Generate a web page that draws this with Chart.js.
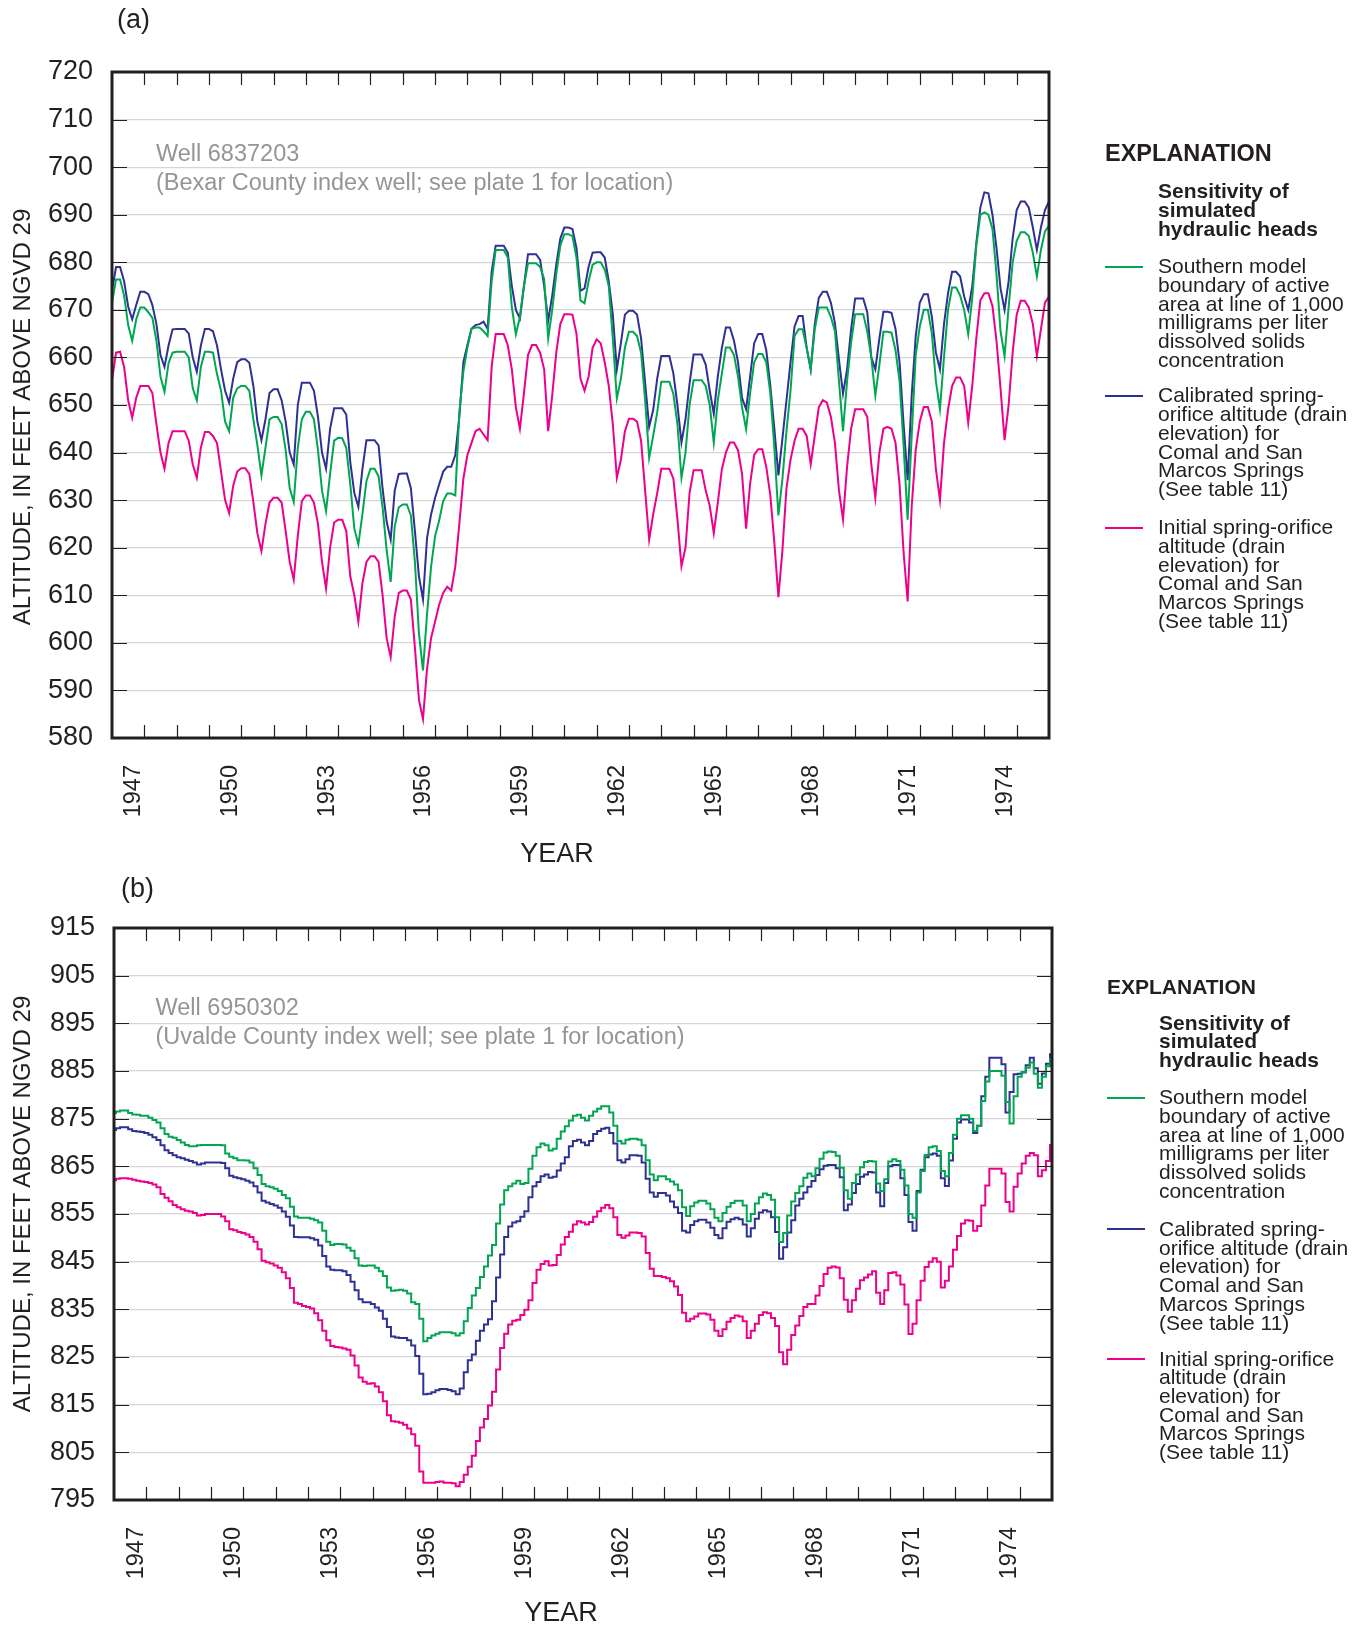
<!DOCTYPE html>
<html lang="en">
<head>
<meta charset="utf-8">
<title>Sensitivity of simulated hydraulic heads</title>
<script src="https://cdn.jsdelivr.net/npm/chart.js@4.4.1/dist/chart.umd.min.js"></script>
<style>
  html, body { margin: 0; padding: 0; background: #ffffff; }
  #page { position: relative; width: 1362px; height: 1625px; overflow: hidden;
          font-family: "Liberation Sans", Arial, Helvetica, sans-serif; color: #231f20; }
  #page canvas { position: absolute; left: 0; }
  .txt { position: absolute; white-space: pre; }
  .narrow { font-family: "Liberation Sans Narrow", "Liberation Sans", sans-serif; font-size: 27px; line-height: 28px; }
  .well { color: #939598; font-size: 23.5px; line-height: 29px; }
  .expl { font-weight: bold; line-height: 24px; }
  .key { font-size: 21px; line-height: 18.7px; }
  .heading { font-weight: bold; }
  .axis-name { font-size: 24px; line-height: 28px; width: 600px; text-align: center; transform: rotate(-90deg); }
  .swatch { position: absolute; width: 38px; height: 2px; }
</style>
</head>
<body>
<div id="page">
  <canvas id="chartA" width="1362" height="830" style="top:0"></canvas>
  <canvas id="chartB" width="1362" height="795" style="top:830px"></canvas>
</div>
<script>
// Time axis: eight readings a year from 1947 to 1975, plus the end point at 1976
const startYear = 1947;
const stepsPerYear = 8;
const yearLabels = ['1947', '1950', '1953', '1956', '1959', '1962', '1965', '1968', '1971', '1974'];
const altitudeTicksA = [580, 590, 600, 610, 620, 630, 640, 650, 660, 670, 680, 690, 700, 710, 720];
const altitudeTicksB = [795, 805, 815, 825, 835, 845, 855, 865, 875, 885, 895, 905, 915];

// (a) Well 6837203, altitude in feet
const southernA = [
  671.5, 676.4, 676.4, 673, 666.8, 663.5, 668, 670.5,
  670.5, 669.5, 668.3, 663.5, 656, 652.8, 658.8, 661,
  661.2, 661.2, 661.2, 660, 653.5, 651, 658, 661.2,
  661.2, 661, 656.5, 653, 646.5, 644.5, 651.5, 653.5,
  654, 654, 653, 647, 641.5, 635.2, 641, 647,
  647.5, 647.5, 646, 640.5, 632.5, 629.6, 641, 647,
  648.6, 648.6, 647, 640.5, 632, 627.7, 635.5, 642.5,
  643.1, 643, 641, 633.3, 624, 620.7, 627, 634,
  636.6, 636.6, 635, 628.5, 619.5, 612.8, 624.5, 628.5,
  629.1, 629.1, 626.8, 617, 602, 594.2, 606, 616,
  622.5, 625.7, 629.8, 631.4, 631.4, 631, 648.5, 657,
  662.1, 666, 666.3, 666.3, 665.5, 664.5, 676, 682.6,
  682.6, 682.6, 681, 670.5, 664.9, 668.5, 675, 679.8,
  679.8, 679.8, 679, 676.5, 664, 670, 677.5, 683.5,
  685.9, 685.9, 685.5, 681, 672, 671.4, 676, 679.5,
  680, 680, 678.5, 675, 664, 651.4, 655.5, 662.1,
  665.4, 665.4, 664.5, 661, 651, 638.9, 643.5, 648.5,
  654.9, 654.9, 654.9, 652.3, 646, 634.7, 640, 650,
  655.2, 655.2, 655.2, 654, 650, 642.1, 651, 656.6,
  662.1, 662.1, 660.5, 656, 649.5, 644.9, 652.5, 659,
  660.7, 660.7, 659, 652.5, 641, 626.8, 634.5, 644.5,
  653, 664.5, 665.9, 665.9, 662, 657.5, 665.9, 670.5,
  670.5, 670.5, 668.5, 665.5, 655, 644.5, 655, 663.1,
  669.1, 669.1, 669.1, 665.5, 660, 652, 658.4, 665.4,
  665.4, 665.2, 661.5, 655, 641.5, 625.9, 643.5, 660.5,
  666.5, 670, 670, 665, 655, 649.1, 660, 670,
  674.7, 674.7, 673, 670, 664.9, 672.5, 683.5, 690,
  690.5, 690, 687, 677.5, 665.5, 660.3, 670.5, 680,
  684.5, 686.3, 686.3, 685.5, 682, 677, 682.6, 686.5,
  687.7
];
const calibratedA = [
  674, 679, 679, 676, 670.7, 668, 671, 673.8,
  673.8, 673.3, 671, 667, 660.5, 658, 662.5, 665.9,
  666, 666, 666, 665, 660, 657, 662.5, 666,
  666, 665.5, 662.5, 657.5, 653, 650.5, 655.5, 659,
  659.6, 659.6, 658.9, 654, 646.5, 642.6, 647, 652.5,
  653.3, 653.3, 651, 646.5, 640, 637.5, 650, 654.7,
  654.7, 654.7, 653, 647.5, 640, 636.6, 645, 649.3,
  649.3, 649.3, 648, 638, 631.5, 628.6, 636.5, 642.6,
  642.6, 642.6, 641.5, 632.4, 625.5, 621.7, 632, 635.5,
  635.6, 635.6, 632.5, 623.5, 614, 609.1, 622, 627,
  630.5, 633.3, 636, 637, 637, 639.5, 647.5, 659,
  662.6, 666, 666.8, 667, 667.5, 666, 678, 683.5,
  683.5, 683.5, 682, 675, 670, 668.2, 675, 681.7,
  681.7, 681.7, 680.5, 675, 667.7, 673, 679.5, 685,
  687.3, 687.3, 687, 683, 674, 674.5, 679, 682,
  682.1, 682.1, 681, 676, 669, 657.5, 663, 669,
  669.8, 669.8, 669, 664, 654.7, 645.4, 649, 655.6,
  660.3, 660.3, 660.3, 656.6, 650, 642.1, 647, 654.5,
  660.6, 660.6, 660.6, 658.5, 653, 648.2, 656, 662,
  666.3, 666.3, 663.5, 659, 651.5, 649.1, 656, 663,
  664.9, 664.9, 661.5, 654, 645, 635.2, 643, 651,
  659, 666.5, 668.7, 668.7, 662, 657.5, 667, 672.5,
  673.8, 673.8, 671.5, 667.2, 659.5, 652.4, 657.5, 665.9,
  672.4, 672.4, 672.4, 669.5, 660, 657.5, 664, 669.6,
  669.6, 669.4, 666, 659, 646, 634.2, 652, 664.5,
  671.5, 673.3, 673.3, 668.5, 661, 657.5, 667, 673.5,
  678, 678, 677, 672.8, 670, 675, 684, 691.5,
  694.7, 694.5, 690, 683, 674.5, 670, 676, 685,
  691, 692.8, 692.8, 691.5, 687.3, 682.6, 687.3, 691,
  692.8
];
const initialA = [
  655.2, 661, 661.2, 658, 651, 647.3, 651.5, 654,
  654, 654, 652.5, 646, 640, 636.6, 642, 644.5,
  644.5, 644.5, 644.5, 642.5, 637.5, 634.7, 641, 644.3,
  644.3, 643.5, 642, 636, 630, 627.3, 633, 636,
  636.7, 636.7, 635.5, 629.6, 623, 619.3, 625, 629.5,
  630.5, 630.5, 629.5, 623.5, 617, 613.3, 622.5, 629.8,
  631, 631, 629.5, 625, 617, 611.4, 620, 625.3,
  625.9, 625.9, 623.5, 614, 610, 604.5, 612.5, 617,
  618.2, 618.2, 617, 610, 601, 597, 605.5, 610.5,
  611, 611, 609.1, 599, 588, 584, 594.5, 601,
  604.5, 608, 610.5, 611.8, 611, 616, 625, 634.5,
  639.5, 642, 644.5, 645, 643.8, 642.6, 658, 664.9,
  664.9, 664.9, 662.5, 657.5, 649.5, 645, 652.5, 660.5,
  662.6, 662.6, 661, 657.5, 644.5, 652, 661, 667,
  669.1, 669.1, 669, 665, 655.5, 653, 656, 662,
  663.8, 663, 659, 654, 646, 634.7, 638.5, 644.5,
  647.1, 647.1, 646.5, 642.5, 632, 621.7, 627, 631.5,
  636.6, 636.6, 636.6, 634.5, 626, 616.1, 620, 631.5,
  636.3, 636.3, 636.3, 632, 628.8, 623.1, 629.5, 636.5,
  640, 642.1, 642.1, 640.5, 635.5, 624, 633.5, 639.5,
  640.7, 640.7, 637, 631, 621, 609.6, 619.5, 632.5,
  638.5, 642.5, 645, 645, 643.5, 637.5, 643.5, 649.5,
  651, 650.5, 647.5, 642, 632, 625.9, 637, 645,
  649.1, 649.1, 649.1, 647.5, 637.5, 630.5, 640, 645,
  645.4, 645, 642, 633.3, 619, 608.7, 628.6, 640.5,
  646.5, 649.6, 649.6, 646.5, 636.5, 630, 642, 649,
  654, 655.8, 655.8, 654, 646.3, 654, 664, 672,
  673.5, 673.5, 670.8, 663.5, 653.5, 642.6, 650, 661,
  669, 671.9, 671.9, 670.5, 667, 660.3, 665.9, 671.5,
  672.8
];

// (b) Well 6950302, altitude in feet
const southernB = [
  876.2, 876.5, 876.7, 876.7, 876.2, 875.9, 875.8, 875.6,
  875.6, 875.2, 874.7, 874.2, 873, 871.8, 871.2, 871,
  870.5, 870, 869.5, 869.2, 869.2, 869.4, 869.5, 869.5,
  869.5, 869.5, 869.5, 869.4, 867.7, 867, 866.7, 866.3,
  866.3, 866.2, 865.8, 864.6, 863.2, 861.3, 860.8, 860.6,
  860.3, 859.8, 859, 858.3, 856.5, 854.5, 854.2, 854.2,
  854.2, 854, 853.7, 853.2, 851.5, 849.2, 848.5, 848.7,
  848.7, 848.6, 847.9, 847.3, 845.7, 844.2, 844.1, 844.2,
  844.2, 843.7, 843, 842, 839.6, 838.9, 839, 839.1,
  838.9, 838.3, 836.5, 836.1, 833, 828.3, 829, 829.5,
  829.9, 830.2, 830.2, 830.2, 830, 829.5, 830, 832.5,
  835.3, 837.9, 839.5, 841.8, 844, 846.3, 848.5, 853,
  857, 860, 860.8, 861.4, 862, 861.3, 861.5, 864.5,
  867.2, 869, 869.8, 869.4, 868.3, 868.7, 870.8, 872.3,
  873.4, 874.6, 875.6, 875.8, 875.2, 874.6, 875.6, 876.5,
  877.1, 877.6, 877.6, 876.3, 873.5, 870.3, 869.8, 870.6,
  870.8, 870.8, 870.6, 869.4, 866.3, 863.3, 862.1, 862.9,
  862.9, 862.3, 861.8, 861.2, 860, 856.4, 854.6, 856.6,
  857.4, 857.8, 857.8, 857.2, 856, 854.2, 853.5, 855.2,
  856.5, 857.3, 857.8, 857.8, 856.8, 853.5, 855, 857.2,
  858.5, 859.3, 859, 858, 854.3, 849.1, 851, 854.7,
  857.6, 859.4, 860.8, 862.6, 863.5, 862.9, 864.6, 866.6,
  867.9, 868.1, 868, 867.2, 864.7, 860, 858.2, 861.5,
  863.3, 864.8, 865.9, 866.1, 866, 861.4, 859.8, 862.3,
  866, 866.5, 866.1, 864.3, 861, 855, 854.2, 859.5,
  864, 867.4, 869, 869.2, 868.2, 864, 862.9, 867.8,
  871.6, 875, 875.7, 875.7, 875, 872.4, 873.5, 878.7,
  882.8, 885, 885, 885, 884, 878.5, 874, 879.7,
  883.8, 884.8, 885.7, 886.8, 884.4, 881.5, 883.8, 886,
  887.5
];
const calibratedB = [
  872.6, 873, 873.2, 873.2, 872.8, 872.4, 872.3, 872.2,
  872, 871.6, 871.1, 870.5, 869.4, 868.4, 867.8, 867.3,
  866.9, 866.7, 866.4, 866.1, 865.8, 865.4, 865.6, 865.8,
  865.8, 865.8, 865.8, 865.7, 864.6, 863, 862.7, 862.5,
  862.3, 862, 861.6, 860.8, 859.5, 857.8, 857.4, 857.1,
  856.8, 856.3, 855.5, 854.4, 852.6, 850.2, 850.1, 850.1,
  850.1, 849.9, 849.6, 848.4, 846.2, 844, 843.3, 843.2,
  843.2, 843, 842.2, 840.8, 839, 837.1, 836.5, 836.5,
  836.1, 835.4, 834.7, 833, 831.3, 829.3, 829.1, 829,
  829, 828.5, 827.4, 825.2, 821.5, 817.2, 817.3, 817.6,
  818, 818.3, 818.3, 818.1, 817.8, 817.2, 818.4, 821.8,
  824.3, 825.5, 828.4, 830.5, 831.8, 832.9, 836.7, 841.7,
  846.5, 850.2, 852.4, 853.2, 853.5, 854.4, 855.6, 858.5,
  860.8, 861.7, 862.9, 863.3, 862.6, 862.8, 864.1, 865.6,
  866.9, 869.2, 870.3, 870.6, 870, 869.4, 870.3, 871.8,
  872.4, 872.9, 873.1, 872, 869.8, 866.3, 865.8, 866.5,
  867.3, 867.3, 867.2, 865.8, 862.4, 859.5, 858.6, 859.4,
  859.4, 858.9, 857.6, 856.4, 855.2, 851.5, 851.1, 852.7,
  853.5, 853.8, 853.8, 853.2, 852.1, 850.6, 849.9, 852,
  853.4, 853.9, 854.2, 853.9, 852.8, 850.3, 852, 854,
  855.3, 855.8, 855.5, 854.3, 851.2, 845.6, 848, 851.1,
  853.7, 856.8, 858.2, 859.5, 860.7, 861.9, 863.2, 864.4,
  865.1, 865.3, 865.3, 864.6, 862.7, 855.8, 857, 859.4,
  861.3, 862.8, 863.3, 863.8, 863.7, 859.5, 856.6, 861.5,
  865, 865.3, 865.3, 862.5, 859, 853.3, 851.5, 859.8,
  864.3, 866.9, 867.5, 867.7, 867.2, 862.5, 860.9, 866.2,
  870.8, 874.2, 874.8, 874.8, 874.2, 872, 873.5, 879.7,
  883.8, 887.8, 887.8, 887.8, 886.4, 876.3, 880.6, 884.3,
  884.4, 884.7, 886.2, 887.8, 885.6, 882.3, 884.5, 886.5,
  888.5
];
const initialB = [
  862.1, 862.4, 862.5, 862.5, 862.4, 862.2, 862, 861.8,
  861.7, 861.5, 861.2, 860.6, 859.2, 858.4, 857.7, 856.9,
  856.4, 856, 855.7, 855.5, 855.2, 854.7, 854.8, 855,
  855, 855, 855, 854.5, 853.5, 851.8, 851.6, 851.2,
  851, 850.7, 850.2, 849.2, 847.6, 845.2, 844.9, 844.6,
  844.2, 843.7, 842.8, 841.5, 839.5, 836.4, 836.1, 835.7,
  835.5, 835.2, 834.2, 832.7, 830.5, 828.5, 827.3, 827.1,
  827, 826.8, 826.5, 825.3, 823.2, 820.7, 819.8, 819.4,
  819.5, 818.8, 817.6, 815.7, 812.8, 811.5, 811.4, 811.2,
  810.8, 810, 808.8, 806.4, 801, 798.6, 798.6, 798.6,
  798.8, 798.9, 798.6, 798.6, 798.5, 797.9, 798.8, 800.3,
  802, 804.3, 807.4, 810.2, 812, 814.8, 817.7, 822.4,
  826.9, 829.9, 831.8, 832.6, 832.8, 833.8, 834.9, 836.9,
  840.5, 843.3, 844.5, 845.1, 844.2, 844.3, 846.4, 848.6,
  850.2, 851.3, 852.8, 853.5, 853.2, 852.8, 853.3, 854.4,
  855.6, 856.3, 856.9, 856.2, 854.3, 850.6, 850, 850.5,
  851.1, 851.1, 851, 850.3, 846.8, 843.5, 842, 842,
  841.8, 841.5, 840.9, 839.8, 838, 834.3, 832.5, 833,
  833.5, 834.1, 834.1, 833.9, 832.8, 830.5, 829.4, 830.8,
  832.4, 833.2, 833.7, 833.5, 832.5, 829, 830.5, 832,
  833.8, 834.4, 834.2, 833.2, 831.5, 826, 823.5, 826.5,
  829.6, 831.6, 833.6, 835.5, 836.1, 836.1, 837.9, 839.9,
  842.4, 843.7, 844, 843.8, 841.5, 837, 834.5, 836.9,
  839.3, 841.1, 841.7, 842.3, 843, 838.5, 836.1, 839,
  842.6, 842.8, 842.1, 840.2, 836, 829.8, 832, 836.9,
  841, 843.9, 845, 845.7, 845, 839.6, 841, 844,
  847.5, 850.4, 853, 853.7, 853.6, 851.5, 852.5, 856.8,
  861, 864.5, 864.5, 864.5, 863.5, 857.5, 855.5, 860.7,
  863.5, 865.6, 867.2, 867.8, 867.3, 862.9, 864.2, 866.1,
  869.5
];

const ink = '#231f20';
const lineColors = { southern: '#00a651', calibrated: '#2e3192', initial: '#ec008c' };

const legendEntries = [
  { color: lineColors.southern, text: 'Southern model\nboundary of active\narea at line of 1,000\nmilligrams per liter\ndissolved solids\nconcentration' },
  { color: lineColors.calibrated, text: 'Calibrated spring-\norifice altitude (drain\nelevation) for\nComal and San\nMarcos Springs\n(See table 11)' },
  { color: lineColors.initial, text: 'Initial spring-orifice\naltitude (drain\nelevation) for\nComal and San\nMarcos Springs\n(See table 11)' }
];

function toPoints(values) {
  return values.map((v, i) => ({ x: startYear + i / stepsPerYear, y: v }));
}

// frame, inward ticks on all four sides and the year labels under the plot
const framePlugin = {
  id: 'frame',
  afterDatasetsDraw(chart, args, opts) {
    const { ctx, chartArea: a, scales: { x, y } } = chart;
    ctx.save();
    ctx.strokeStyle = ink;
    ctx.lineWidth = 1.2;
    ctx.beginPath();
    for (let yr = x.min + 1; yr < x.max; yr++) {
      const px = Math.round(x.getPixelForValue(yr)) + 0.5;
      ctx.moveTo(px, a.top); ctx.lineTo(px, a.top + 13);
      ctx.moveTo(px, a.bottom); ctx.lineTo(px, a.bottom - 13);
    }
    y.ticks.forEach(t => {
      const py = Math.round(y.getPixelForValue(t.value)) + 0.5;
      ctx.moveTo(a.left, py); ctx.lineTo(a.left + 15, py);
      ctx.moveTo(a.right, py); ctx.lineTo(a.right - 15, py);
    });
    ctx.stroke();
    ctx.lineWidth = 3;
    ctx.strokeRect(a.left, a.top, a.right - a.left, a.bottom - a.top);

    ctx.fillStyle = ink;
    ctx.font = '23.5px "Liberation Sans", Arial, sans-serif';
    ctx.textAlign = 'right';
    ctx.textBaseline = 'middle';
    yearLabels.forEach(label => {
      const px = x.getPixelForValue(Number(label) + 0.5) + opts.labelShift;
      ctx.save();
      ctx.translate(px, a.bottom + 27);
      ctx.rotate(-Math.PI / 2);
      ctx.fillText(label, 0, 0);
      ctx.restore();
    });
    ctx.restore();
  }
};

function makePanel(id, box, altitudeTicks, series) {
  const canvas = document.getElementById(id);
  const xHeight = 60;
  const lineStyle = { borderWidth: 2, stepped: box.stepped };
  return new Chart(canvas, {
    type: 'line',
    data: {
      datasets: [
        { label: 'Southern model boundary', data: toPoints(series.southern), borderColor: lineColors.southern, ...lineStyle },
        { label: 'Calibrated spring-orifice altitude', data: toPoints(series.calibrated), borderColor: lineColors.calibrated, ...lineStyle },
        { label: 'Initial spring-orifice altitude', data: toPoints(series.initial), borderColor: lineColors.initial, ...lineStyle }
      ]
    },
    options: {
      responsive: false,
      animation: false,
      devicePixelRatio: 1,
      parsing: false,
      layout: { padding: { top: box.top, right: canvas.width - box.right, bottom: canvas.height - box.bottom - xHeight, left: 0 } },
      elements: {
        point: { radius: 0 },
        line: { tension: 0, fill: false }
      },
      plugins: { legend: { display: false }, tooltip: { enabled: false }, frame: { labelShift: box.labelShift } },
      scales: {
        x: {
          type: 'linear', min: 1947, max: 1976,
          ticks: { display: false },
          grid: { display: false },
          border: { display: false },
          afterFit: s => { s.height = xHeight; }
        },
        y: {
          type: 'linear',
          min: altitudeTicks[0], max: altitudeTicks[altitudeTicks.length - 1],
          afterBuildTicks: s => { s.ticks = altitudeTicks.map(v => ({ value: v })); },
          ticks: {
            padding: 19, color: ink, autoSkip: false,
            font: { family: '"Liberation Sans Narrow", "Liberation Sans", sans-serif', size: 27 }
          },
          grid: { color: '#d6d6d6', lineWidth: 1.2, drawTicks: false },
          border: { display: false },
          afterFit: s => { s.width = box.left; }
        }
      }
    },
    plugins: [framePlugin]
  });
}

// the seasonal swings of (a) read best as joined segments, the slow trend of (b) as month steps
makePanel('chartA', { top: 72, bottom: 738, left: 112, right: 1049, labelShift: 5, stepped: false }, altitudeTicksA,
  { southern: southernA, calibrated: calibratedA, initial: initialA });
makePanel('chartB', { top: 98, bottom: 670, left: 114, right: 1052, labelShift: 6, stepped: 'middle' }, altitudeTicksB,
  { southern: southernB, calibrated: calibratedB, initial: initialB });

// text around the plots: panel letters, well notes, axis names and the explanation
const page = document.getElementById('page');
function addText(cls, left, top, text, extra) {
  const d = document.createElement('div');
  d.className = 'txt ' + cls;
  d.style.left = left + 'px';
  d.style.top = top + 'px';
  d.textContent = text;
  if (extra) Object.assign(d.style, extra);
  page.appendChild(d);
  return d;
}

const panels = [
  { letter: '(a)', letterPos: [117, 5], well: 'Well 6837203\n(Bexar County index well; see plate 1 for location)', wellPos: [156, 139],
    axisCenter: [21.5, 417], yearCenter: [557, 839], expl: [1105, 141, 23.5], heading: [1158, 182.4],
    keyLeft: [1105, 1158], keyTops: [257.2, 386.4, 518.2] },
  { letter: '(b)', letterPos: [121, 874.3], well: 'Well 6950302\n(Uvalde County index well; see plate 1 for location)', wellPos: [155.5, 993],
    axisCenter: [21.5, 1204], yearCenter: [561, 1598], expl: [1107, 974.7, 21], heading: [1159, 1013.7],
    keyLeft: [1107, 1159], keyTops: [1088.3, 1220, 1349.6] }
];

panels.forEach(p => {
  addText('narrow', p.letterPos[0], p.letterPos[1], p.letter);
  addText('well', p.wellPos[0], p.wellPos[1], p.well);
  addText('axis-name', p.axisCenter[0] - 300, p.axisCenter[1] - 14, 'ALTITUDE, IN FEET ABOVE NGVD 29');
  addText('narrow', p.yearCenter[0] - 100, p.yearCenter[1], 'YEAR', { width: '200px', textAlign: 'center' });
  addText('expl', p.expl[0], p.expl[1], 'EXPLANATION', { fontSize: p.expl[2] + 'px' });
  addText('key heading', p.heading[0], p.heading[1], 'Sensitivity of\nsimulated\nhydraulic heads');
  legendEntries.forEach((entry, i) => {
    const top = p.keyTops[i];
    const sw = document.createElement('div');
    sw.className = 'swatch';
    sw.style.left = p.keyLeft[0] + 'px';
    sw.style.top = (top + 8.3) + 'px';
    sw.style.background = entry.color;
    page.appendChild(sw);
    addText('key', p.keyLeft[1], top, entry.text);
  });
});
</script>
</body>
</html>
